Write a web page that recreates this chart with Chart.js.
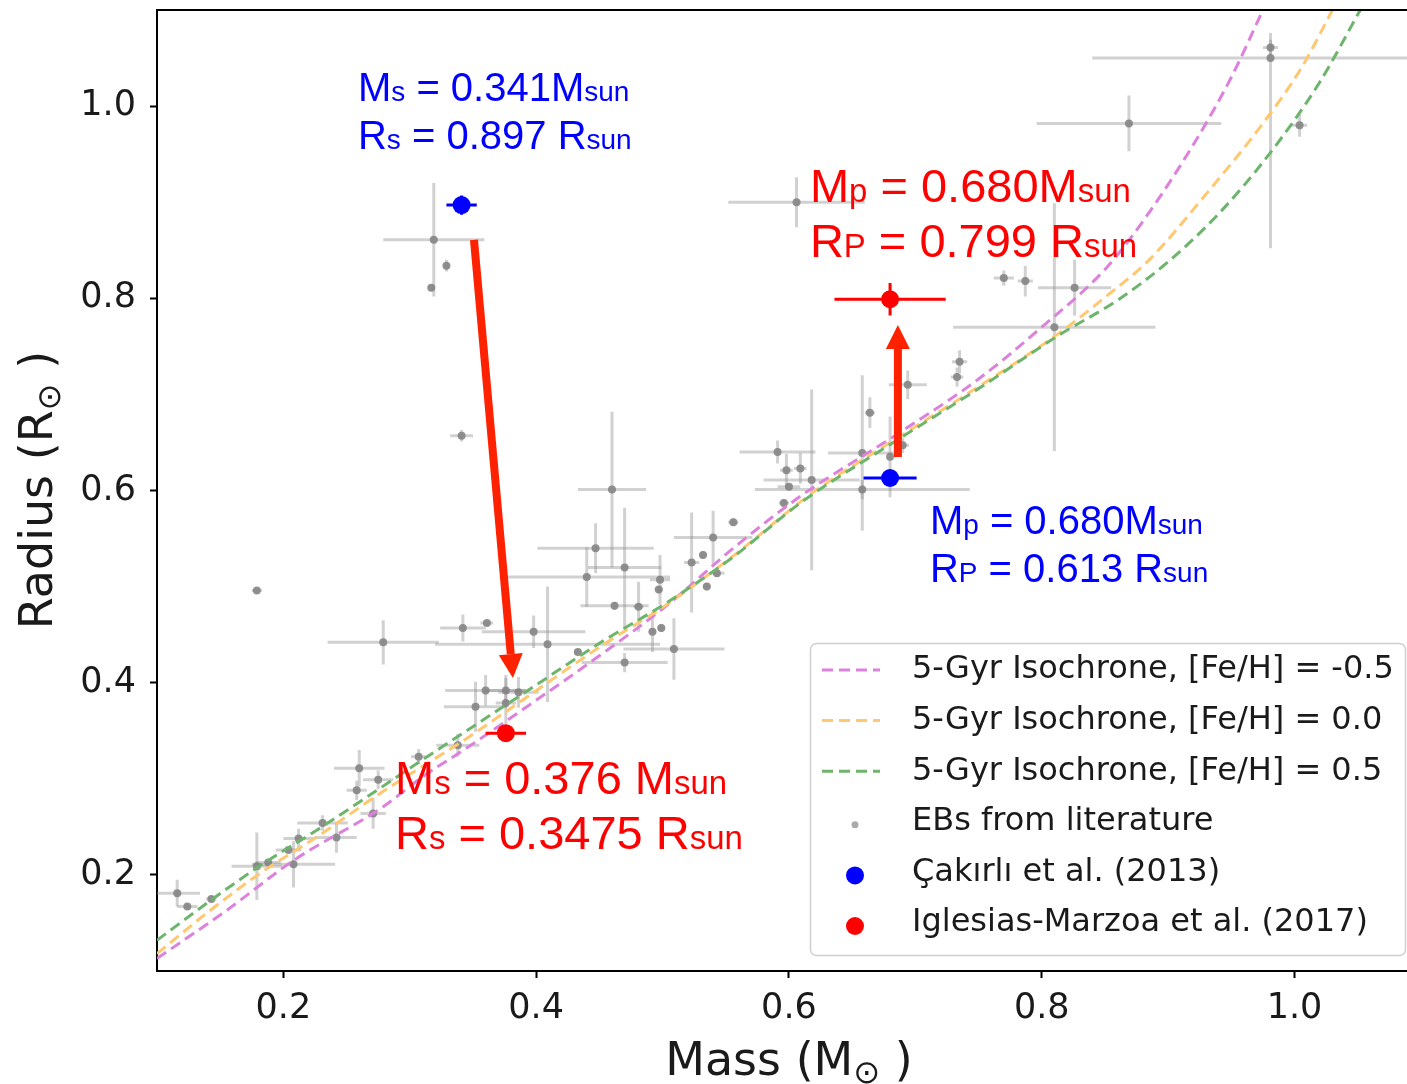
<!DOCTYPE html>
<html>
<head>
<meta charset="utf-8">
<script src="https://cdn.jsdelivr.net/npm/chart.js@4.4.1/dist/chart.umd.min.js"></script>
<style>
  body { margin: 0; background: #fff; }
  #wrap { width: 1407px; height: 1084px; }
</style>
</head>
<body>
<div id="wrap"><canvas id="mr" width="1407" height="1084"></canvas></div>
<script>
// 5-Gyr isochrones (mass, radius in solar units)
const isoNegMass = [0.100, 0.155, 0.208, 0.279, 0.310, 0.345, 0.397, 0.450, 0.503, 0.556, 0.609, 0.685, 0.750, 0.800, 0.850, 0.880, 0.920, 0.950, 0.975];
const isoNegRad  = [0.113, 0.163, 0.215, 0.271, 0.302, 0.332, 0.379, 0.428, 0.480, 0.540, 0.594, 0.658, 0.716, 0.770, 0.830, 0.880, 0.960, 1.030, 1.100];
const isoSolMass = [0.100, 0.142, 0.182, 0.227, 0.279, 0.345, 0.397, 0.450, 0.503, 0.556, 0.618, 0.685, 0.750, 0.814, 0.850, 0.885, 0.931, 0.975, 1.006, 1.030];
const isoSolRad  = [0.118, 0.163, 0.202, 0.240, 0.287, 0.342, 0.389, 0.437, 0.481, 0.532, 0.597, 0.654, 0.708, 0.764, 0.801, 0.840, 0.910, 0.982, 1.041, 1.100];
const isoPosMass = [0.100, 0.142, 0.182, 0.227, 0.266, 0.308, 0.345, 0.397, 0.450, 0.503, 0.556, 0.609, 0.685, 0.750, 0.814, 0.860, 0.900, 0.940, 0.980, 1.020, 1.052];
const isoPosRad  = [0.132, 0.173, 0.210, 0.247, 0.281, 0.318, 0.350, 0.395, 0.441, 0.483, 0.531, 0.587, 0.652, 0.706, 0.762, 0.798, 0.838, 0.888, 0.950, 1.025, 1.100];

// EBs from literature: value and error (radius error may be [low, high])
const ebMass = [0.981, 0.981, 1.004, 0.869, 0.606, 0.770, 0.787, 0.826, 0.810, 0.735, 0.733, 0.694, 0.664, 0.658, 0.658, 0.680, 0.690,
  0.591, 0.598, 0.609, 0.600, 0.618, 0.596, 0.556, 0.540, 0.523, 0.532, 0.543, 0.535, 0.460, 0.447, 0.470, 0.440, 0.462, 0.481,
  0.498, 0.497, 0.492, 0.499, 0.470, 0.509, 0.433, 0.409, 0.398, 0.342, 0.361, 0.279, 0.341, 0.319, 0.329, 0.317, 0.179, 0.360,
  0.376, 0.386, 0.352, 0.376, 0.307, 0.338, 0.260, 0.258, 0.275, 0.271, 0.231, 0.242, 0.212, 0.204, 0.179, 0.208, 0.116, 0.124,
  0.143, 0.188];
const ebRadius = [1.050, 1.061, 0.980, 0.982, 0.900, 0.821, 0.818, 0.811, 0.770, 0.734, 0.718, 0.710, 0.681, 0.639, 0.601, 0.635, 0.647,
  0.640, 0.621, 0.623, 0.604, 0.611, 0.587, 0.567, 0.551, 0.525, 0.533, 0.514, 0.500, 0.601, 0.540, 0.520, 0.510, 0.480, 0.479,
  0.507, 0.497, 0.453, 0.457, 0.421, 0.435, 0.432, 0.440, 0.453, 0.457, 0.462, 0.442, 0.657, 0.861, 0.834, 0.811, 0.496, 0.392,
  0.392, 0.390, 0.375, 0.379, 0.323, 0.335, 0.311, 0.288, 0.299, 0.264, 0.254, 0.239, 0.238, 0.226, 0.209, 0.211, 0.181, 0.167,
  0.175, 0.213];
const ebMassErr = [0.141, 0.006, 0.006, 0.073, 0.054, 0.008, 0.006, 0.029, 0.080, 0.006, 0.005, 0.015, 0.004, 0.027, 0.085, 0.000, 0.005,
  0.030, 0.005, 0.005, 0.009, 0.038, 0.004, 0.004, 0.031, 0.006, 0.003, 0.006, 0.003, 0.027, 0.046, 0.029, 0.066, 0.027, 0.004,
  0.008, 0.003, 0.003, 0.003, 0.034, 0.040, 0.003, 0.089, 0.041, 0.018, 0.005, 0.044, 0.009, 0.040, 0.002, 0.002, 0.004, 0.032,
  0.016, 0.016, 0.025, 0.008, 0.006, 0.017, 0.020, 0.008, 0.012, 0.010, 0.020, 0.016, 0.012, 0.010, 0.020, 0.033, 0.018, 0.008,
  0.004, 0.010];
const ebRadErr = [[0.198, 0.026], 0.008, 0.012, 0.029, 0.026, 0.008, 0.016, 0.029, 0.129, 0.012, 0.010, 0.015, 0.016, 0.081, 0.010, 0.042, 0.008,
  0.012, 0.017, 0.016, 0.003, 0.094, 0.004, 0.004, 0.028, 0.052, 0.004, 0.004, 0.004, 0.081, 0.026, 0.062, 0.031, 0.004, 0.026,
  0.026, 0.004, 0.021, 0.004, 0.010, 0.032, 0.003, 0.060, 0.017, 0.014, 0.003, 0.023, 0.006, 0.059, 0.006, 0.003, 0.003, 0.016,
  0.016, 0.016, 0.026, 0.026, 0.008, 0.012, 0.019, 0.010, 0.010, 0.016, 0.008, 0.016, 0.010, 0.003, 0.035, 0.024, 0.014, 0.003,
  0.003, 0.003];

// the two solutions for the system (primary, secondary)
const cakirliMass = [0.680, 0.341];
const cakirliRad = [0.613, 0.897];
const cakirliMassErr = [0.021, 0.012];
const cakirliRadErr = [0.006, 0.010];
const iglesiasMass = [0.680, 0.376];
const iglesiasRad = [0.799, 0.3475];
const iglesiasMassErr = [0.044, 0.016];
const iglesiasRadErr = [0.017, 0.004];

const xTicks = [0.2, 0.4, 0.6, 0.8, 1.0];
const yTicks = [0.2, 0.4, 0.6, 0.8, 1.0];

const legendLabels = ['5-Gyr Isochrone, [Fe/H] = -0.5', '5-Gyr Isochrone, [Fe/H] = 0.0', '5-Gyr Isochrone, [Fe/H] = 0.5',
  'EBs from literature', 'Çakırlı et al. (2013)', 'Iglesias-Marzoa et al. (2017)'];

// annotations: text, then where it sits (mass, radius of the baseline start)
const noteText = ['M_{s} = 0.341M_{sun}', 'R_{s} = 0.897 R_{sun}', 'M_{p} = 0.680M_{sun}', 'R_{P} = 0.799 R_{sun}',
  'M_{p} = 0.680M_{sun}', 'R_{P} = 0.613 R_{sun}', 'M_{s} = 0.376 M_{sun}', 'R_{s} = 0.3475 R_{sun}'];
const notePos = [[0.259, 1.0053], [0.259, 0.9554], [0.6166, 0.9002], [0.6166, 0.8430],
  [0.7115, 0.5547], [0.7115, 0.5048], [0.2883, 0.2842], [0.2883, 0.2269]];
const noteStyle = [['#0000ff', 40], ['#0000ff', 40], ['#ff0000', 47], ['#ff0000', 47],
  ['#0000ff', 40], ['#0000ff', 40], ['#ff0000', 47], ['#ff0000', 47]];
// arrows from the old to the new solution (tail, tip)
const arrows = [[[0.3508, 0.8607], [0.3816, 0.4049]], [[0.6862, 0.6348], [0.6862, 0.7722]]];

const COL_NEG = '#dc82dc', COL_SOL = '#ffc870', COL_POS = '#6db46d';
const DASH = [11, 6];

const xy = (ms, rs) => ms.map((m, i) => ({x: m, y: rs[i]}));

function richText(ctx, str, x, y, size, family, color) {
  const parts = [];
  const re = /_\{([^}]*)\}/g;
  let last = 0, mt;
  while ((mt = re.exec(str))) {
    if (mt.index > last) parts.push([str.slice(last, mt.index), 1]);
    parts.push([mt[1], 0.7]);
    last = re.lastIndex;
  }
  if (last < str.length) parts.push([str.slice(last), 1]);
  ctx.fillStyle = color;
  ctx.textAlign = 'left';
  ctx.textBaseline = 'alphabetic';
  let cx = x;
  parts.forEach(([t, s]) => {
    ctx.font = (size * s) + 'px ' + family;
    ctx.fillText(t, cx, y);
    cx += ctx.measureText(t).width;
  });
}

// "Mass (M_sun)" style title, subscript lowered, centred on cx
function axisTitle(ctx, main, sub, tail, cx, base, size) {
  const f = size + 'px "DejaVu Sans"', fs = (size * 0.7) + 'px "DejaVu Sans"';
  ctx.font = f; const w1 = ctx.measureText(main).width, w3 = ctx.measureText(tail).width;
  ctx.font = fs; const w2 = ctx.measureText(sub).width;
  let x = cx - (w1 + w2 + w3) / 2;
  ctx.fillStyle = '#1a1a1a';
  ctx.textAlign = 'left';
  ctx.textBaseline = 'alphabetic';
  ctx.font = f; ctx.fillText(main, x, base); x += w1;
  ctx.font = fs; ctx.fillText(sub, x, base + size * 0.17); x += w2;
  ctx.font = f; ctx.fillText(tail, x, base);
}

function bar(ctx, x, y, xs, i, mErr, rErr) {
  const px = xs.x.getPixelForValue(x[i]), py = xs.y.getPixelForValue(y[i]);
  const e = rErr[i], lo = Array.isArray(e) ? e[0] : e, hi = Array.isArray(e) ? e[1] : e;
  ctx.beginPath();
  if (mErr[i] > 0) {
    ctx.moveTo(xs.x.getPixelForValue(x[i] - mErr[i]), py);
    ctx.lineTo(xs.x.getPixelForValue(x[i] + mErr[i]), py);
  }
  if (lo > 0 || hi > 0) {
    ctx.moveTo(px, xs.y.getPixelForValue(y[i] - lo));
    ctx.lineTo(px, xs.y.getPixelForValue(y[i] + hi));
  }
  ctx.stroke();
}

function drawArrow(ctx, x0, y0, x1, y1) {
  const a = Math.atan2(y1 - y0, x1 - x0), L = 24, W = 12;
  const bx = x1 - L * Math.cos(a), by = y1 - L * Math.sin(a);
  ctx.strokeStyle = ctx.fillStyle = '#ff2200';
  ctx.lineWidth = 8;
  ctx.beginPath(); ctx.moveTo(x0, y0); ctx.lineTo(bx, by); ctx.stroke();
  ctx.beginPath();
  ctx.moveTo(x1, y1);
  ctx.lineTo(bx + W * Math.sin(a), by - W * Math.cos(a));
  ctx.lineTo(bx - W * Math.sin(a), by + W * Math.cos(a));
  ctx.closePath(); ctx.fill();
}

const extras = {
  id: 'extras',
  beforeDatasetsDraw(chart) {
    const {ctx, chartArea: a, scales} = chart;
    ctx.save();
    ctx.beginPath(); ctx.rect(a.left, a.top, a.right - a.left, a.bottom - a.top); ctx.clip();
    ctx.strokeStyle = 'rgba(140,140,140,0.4)';
    ctx.lineWidth = 3;
    ebMass.forEach((m, i) => bar(ctx, ebMass, ebRadius, scales, i, ebMassErr, ebRadErr));
    ctx.restore();
  },
  afterDatasetsDraw(chart) {
    const {ctx, chartArea: a, scales} = chart;
    ctx.save();
    ctx.lineWidth = 3;
    ctx.strokeStyle = '#0000ff';
    cakirliMass.forEach((m, i) => bar(ctx, cakirliMass, cakirliRad, scales, i, cakirliMassErr, cakirliRadErr));
    ctx.strokeStyle = '#ff0000';
    iglesiasMass.forEach((m, i) => bar(ctx, iglesiasMass, iglesiasRad, scales, i, iglesiasMassErr, iglesiasRadErr));
    arrows.forEach(([t, h]) => drawArrow(ctx, scales.x.getPixelForValue(t[0]), scales.y.getPixelForValue(t[1]),
      scales.x.getPixelForValue(h[0]), scales.y.getPixelForValue(h[1])));
    noteText.forEach((t, i) => richText(ctx, t, scales.x.getPixelForValue(notePos[i][0]),
      scales.y.getPixelForValue(notePos[i][1]), noteStyle[i][1], '"Liberation Sans", Arial, sans-serif', noteStyle[i][0]));

    // top spine
    ctx.strokeStyle = '#000';
    ctx.lineWidth = 2;
    ctx.beginPath(); ctx.moveTo(a.left, a.top); ctx.lineTo(a.right, a.top); ctx.stroke();

    // legend
    const lx = 810, ly = 643, lw = 595, lh = 312;
    ctx.fillStyle = 'rgba(255,255,255,0.85)';
    ctx.strokeStyle = '#d0d0d0';
    ctx.lineWidth = 1.5;
    ctx.beginPath(); ctx.roundRect(lx + 0.5, ly + 0.5, lw, lh, 6); ctx.fill(); ctx.stroke();
    const lineCols = [COL_NEG, COL_SOL, COL_POS];
    legendLabels.forEach((lab, i) => {
      const ry = 670 + i * 50.6;
      if (i < 3) {
        ctx.strokeStyle = lineCols[i]; ctx.lineWidth = 3; ctx.setLineDash(DASH);
        ctx.beginPath(); ctx.moveTo(822, ry); ctx.lineTo(880, ry); ctx.stroke();
        ctx.setLineDash([]);
      } else {
        const c = ['#aaaaaa', '#0000ff', '#ff0000'][i - 3], r = i === 3 ? 3.5 : 9;
        ctx.fillStyle = c;
        ctx.beginPath(); ctx.arc(855, ry + 3, r, 0, Math.PI * 2); ctx.fill();
      }
      ctx.fillStyle = '#1a1a1a';
      ctx.font = '32px "DejaVu Sans"';
      ctx.textAlign = 'left';
      ctx.textBaseline = 'middle';
      ctx.fillText(lab, 912, ry);
    });

    // axis titles
    axisTitle(ctx, 'Mass (M', '⊙', ' )', 789, 1075, 46);
    ctx.translate(52, 490);
    ctx.rotate(-Math.PI / 2);
    axisTitle(ctx, 'Radius (R', '⊙', ' )', 0, 0, 46);
    ctx.restore();
  }
};

const tickFont = {family: 'DejaVu Sans', size: 35};

new Chart(document.getElementById('mr'), {
  type: 'scatter',
  data: {
    datasets: [
      {label: 'Iglesias-Marzoa', data: xy(iglesiasMass, iglesiasRad), backgroundColor: '#ff0000', borderWidth: 0, pointRadius: 9},
      {label: 'Cakirli', data: xy(cakirliMass, cakirliRad), backgroundColor: '#0000ff', borderWidth: 0, pointRadius: 9},
      {label: 'iso +0.5', data: xy(isoPosMass, isoPosRad), showLine: true, borderColor: COL_POS, borderWidth: 3,
        borderDash: DASH, pointRadius: 0, cubicInterpolationMode: 'monotone'},
      {label: 'iso 0.0', data: xy(isoSolMass, isoSolRad), showLine: true, borderColor: COL_SOL, borderWidth: 3,
        borderDash: DASH, pointRadius: 0, cubicInterpolationMode: 'monotone'},
      {label: 'iso -0.5', data: xy(isoNegMass, isoNegRad), showLine: true, borderColor: COL_NEG, borderWidth: 3,
        borderDash: DASH, pointRadius: 0, cubicInterpolationMode: 'monotone'},
      {label: 'EBs', data: xy(ebMass, ebRadius), backgroundColor: 'rgba(128,128,128,0.85)', borderWidth: 0, pointRadius: 4}
    ]
  },
  options: {
    responsive: false,
    animation: false,
    devicePixelRatio: 1,
    events: [],
    layout: {autoPadding: false, padding: {top: 10, right: 0, left: 0, bottom: 0}},
    plugins: {legend: {display: false}, tooltip: {enabled: false}},
    scales: {
      x: {
        type: 'linear', min: 0.1, max: 1.089,
        afterBuildTicks: s => { s.ticks = xTicks.map(v => ({value: v})); },
        afterFit: s => { s.height = 113; s.paddingLeft = 0; s.paddingRight = 0; },
        ticks: {font: tickFont, color: '#1a1a1a', padding: 10, callback: v => v.toFixed(1), maxRotation: 0},
        grid: {drawOnChartArea: false, tickLength: 7, tickWidth: 2, tickColor: '#000'},
        border: {display: true, color: '#000', width: 2}
      },
      y: {
        type: 'linear', min: 0.1, max: 1.1,
        afterBuildTicks: s => { s.ticks = yTicks.map(v => ({value: v})); },
        afterFit: s => { s.width = 157; s.paddingTop = 0; s.paddingBottom = 0; },
        ticks: {font: tickFont, color: '#1a1a1a', padding: 14, callback: v => v.toFixed(1)},
        grid: {drawOnChartArea: false, tickLength: 7, tickWidth: 2, tickColor: '#000'},
        border: {display: true, color: '#000', width: 2}
      }
    }
  },
  plugins: [extras]
});
</script>
</body>
</html>
